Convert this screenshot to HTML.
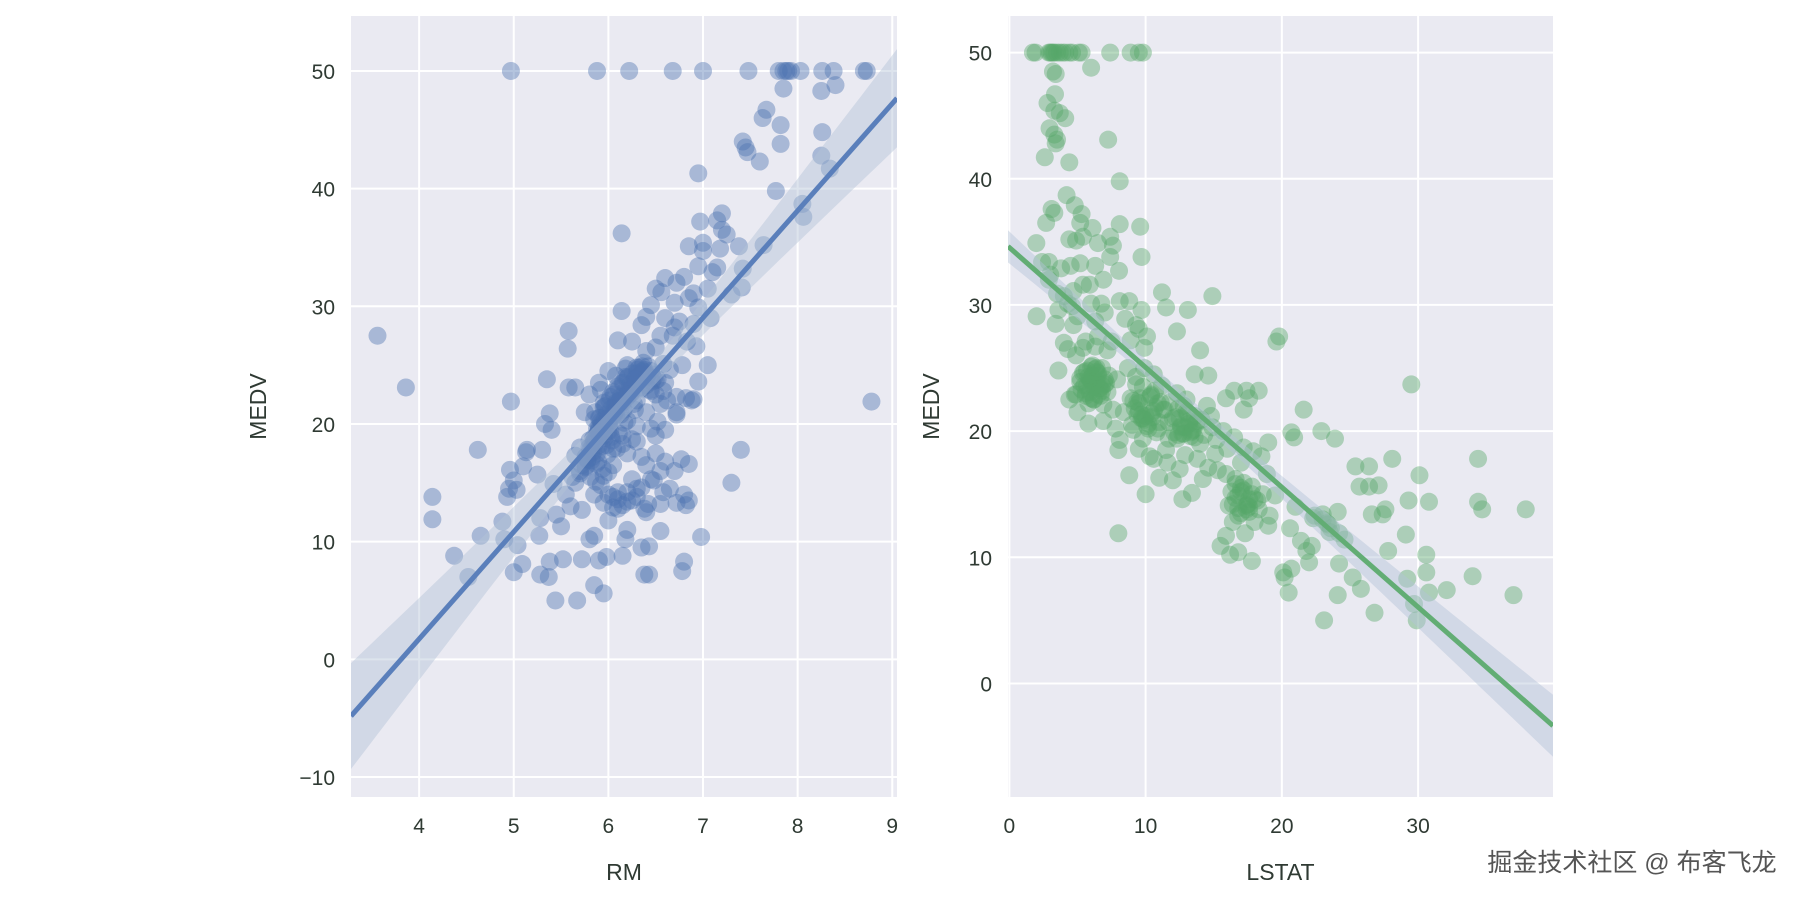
<!DOCTYPE html>
<html><head><meta charset="utf-8"><style>
html,body{margin:0;padding:0;background:#fff;}
svg{display:block;font-family:"Liberation Sans","Noto Sans CJK SC",sans-serif;}
.tick{font-size:21px;fill:#2f3a33;}
.ttl{font-size:23px;fill:#2f3a33;}
</style></head><body>
<svg id="fig" width="1800" height="902" viewBox="0 0 1800 902">
<g id="p1"></g>
<g id="p2"></g>
<text x="1632" y="871" text-anchor="middle" style="font-size:25px;fill:#555;">掘金技术社区 @ 布客飞龙</text>
</svg>
<script>
// ---- data: left panel (RM vs MEDV)
const rmX = [4.97,5.88,6.22,6.68,7.0,7.48,7.8,7.85,7.88,7.9,7.93,8.03,8.26,8.38,8.7,8.73,
7.85,8.25,8.4,7.67,7.63,7.82,7.82,8.26,7.42,7.45,7.47,7.6,8.25,8.34,7.77,6.95,8.05,8.06,7.64,6.14,7.2,7.15,6.97,7.0,7.2,7.25,7.18,7.38,6.85,7.0,7.42,7.41,7.3,7.15,7.1,6.95,6.8,6.72,6.6,6.56,6.9,7.05,6.5,6.45,6.7,6.85,6.95,7.08,6.14,6.6,6.4,6.35,6.7,6.75,6.9,6.68,6.83,6.93,6.1,6.25,6.55,6.5,6.4,7.05,6.95,6.88,6.72,6.78,6.65,5.58,5.57,5.35,5.58,5.65,4.97,5.38,5.33,5.4,3.56,3.86,4.62,5.14,5.1,4.96,5.0,5.03,4.95,4.93,4.14,4.14,4.65,4.88,4.9,5.04,4.37,4.52,5.0,5.09,5.28,5.37,5.38,5.52,5.44,5.67,5.72,5.85,5.95,5.9,5.98,6.15,5.85,5.8,6.38,6.43,6.78,6.8,6.98,6.35,6.43,6.55,6.2,6.18,6.4,6.0,5.72,5.5,5.45,5.28,5.27,5.6,5.55,5.65,5.42,5.62,5.25,5.3,5.13,5.7,5.78,5.85,5.95,6.05,6.1,6.1,6.2,6.3,6.38,6.42,6.25,6.48,6.58,6.65,6.7,6.77,6.85,6.8,6.85,6.82,6.72,6.55,6.6,7.3,7.4,6.5,6.4,6.3,6.45,6.52,6.55,6.72,6.82,6.9,6.62,6.72,8.78,5.95,5.75,5.8,5.9,6.0,6.2,6.3,6.45,6.52,6.58,6.3,6.1,6.2,6.0,5.9,5.8,5.7,5.65,6.05,6.15,6.25,6.4,6.35,6.15,6.05,5.95,5.85,6.08,6.22,6.28,6.13,5.98,6.3,6.45,6.18,5.87,5.95,6.05,6.2,6.35,6.12,5.92,6.4,6.5,6.58,6.6,
5.9,5.95,6.0,6.02,6.06,6.1,6.14,6.18,6.22,6.26,6.3,6.34,6.38,5.88,5.92,5.97,6.03,6.08,6.12,6.16,6.2,6.24,6.28,6.32,5.84,5.9,5.96,6.01,6.07,6.11,6.17,6.21,6.27,5.82,5.86,5.93,5.99,6.04,6.09,6.15,5.78,5.83,5.89,5.94,6.0,5.76,5.81,5.87,5.92,6.42,6.46,6.5,6.36,6.4,6.44,6.48,6.33,6.37,6.41,
5.86,5.91,5.96,6.01,6.06,6.11,6.16,6.21,6.26,6.31,6.36,6.41,6.46,5.88,5.93,5.98,6.03,6.08,6.13,6.18,6.23,6.28,6.33,6.38,5.84,5.89,5.94,5.99,6.04,6.09,6.14,6.19,6.24,6.29,5.80,5.85,5.90,5.95,6.00,6.05,6.10,6.15,6.20,5.76,5.81,5.86,5.91,5.96,6.01,6.06,5.72,5.78,5.84,5.90,5.96,6.02,5.70,5.76,5.82,5.88,6.0,6.1,6.2,6.3,6.05,6.15,6.25,6.35,6.45,6.55,6.5,6.6];
const medvY = [50,50,50,50,50,50,50,50,50,50,50,50,50,50,50,50,
48.5,48.3,48.8,46.7,46,45.4,43.8,44.8,44,43.5,43.1,42.3,42.8,41.7,39.8,41.3,38.7,37.6,35.2,36.2,37.9,37.3,37.2,35.4,36.5,36.1,34.9,35.1,35.1,34.7,33.2,31.6,31,33.3,32.9,33.4,32.5,32,32.4,31.2,31.1,31.5,31.5,30.1,30.3,30.7,29.9,29,29.6,29,29.1,28.4,28.2,28.7,28.5,27.5,27,26.6,27.1,27,27.5,26.5,26.2,25,23.6,22,21,25,24.6,27.9,26.4,23.8,23.1,23.1,21.9,20.9,20,19.5,27.5,23.1,17.8,17.8,16.4,16.1,15.2,14.4,14.5,13.8,13.8,11.9,10.5,11.7,10.2,9.7,8.8,7.0,7.4,8.1,7.2,7.0,8.3,8.5,5.0,5.0,8.5,6.3,5.6,8.4,8.7,8.8,10.5,10.2,7.2,7.2,7.5,8.3,10.4,9.5,9.6,10.9,11,10.2,12.5,11.8,12.7,11.3,12.3,12,10.5,13,14,15,14.9,15.5,15.7,17.8,17.6,16,17,14,13.3,13.8,14.2,12.8,13.4,14.5,12.8,13.2,15.3,15.2,14.2,14.5,16,17,16.6,14,13.5,13.1,13.3,13.2,16.8,15,17.8,17.5,16.5,18.5,19.6,20.2,21.7,22.3,22.2,22.1,22,20.8,21.9,19,21,22.5,23.5,24.5,25,24.8,24.5,23.8,22.8,22,21.5,20.3,20,19.5,18.6,18,17.3,17.9,19,18.7,21,23,23.5,22.7,21.4,20.4,24.1,22.5,21.2,20.8,18.2,19.8,22.8,24.7,16.6,15.6,16.5,17.5,17.2,22,22.9,24,22.5,25.1,23.5,
20.5,21.8,19.4,22.3,20.9,23.2,21.9,24.0,22.7,23.6,24.3,23.1,24.6,19.1,20.2,21.5,18.9,20.7,22.0,21.2,23.9,22.6,23.4,24.0,18.4,19.7,20.4,19.9,21.6,19.2,20.1,22.8,21.7,17.6,18.8,18.1,17.4,18.6,17.9,18.3,16.9,17.2,16.8,16.2,15.9,16.4,15.5,15.1,14.8,24.9,24.2,23.7,24.5,23.3,22.9,23.9,24.8,25.2,24.1,
21.0,20.5,21.5,22.0,22.5,23.0,23.5,24.0,24.3,24.6,24.9,24.2,23.6,19.6,20.0,20.8,21.3,21.8,22.3,22.8,23.3,23.8,24.1,24.4,18.8,19.3,19.9,20.4,20.9,21.4,21.9,22.4,22.9,23.4,18.0,18.6,19.2,19.8,20.3,20.8,21.3,21.8,22.3,17.2,17.8,18.4,19.0,19.6,20.2,20.7,16.5,17.0,17.6,18.2,18.8,19.4,15.8,16.3,16.9,17.5,14.0,13.6,14.2,13.8,12.9,13.1,13.5,14.6,15.3,16.0,19.0,19.5];
const regRM = [9.10, -34.67];          // slope, intercept
const bandRM = [6.28, 248, 506, 23];   // mean, Sxx, n, scale
const rmTicks = [4,5,6,7,8,9];
const medvTicksL = [-10,0,10,20,30,40,50];

// ---- data: right panel (LSTAT vs MEDV)
const lsX = [1.73,1.92,2.9,3.0,3.1,3.2,3.3,3.5,3.7,3.9,4.1,4.4,4.6,5.1,5.3,7.4,8.9,9.5,9.8,
6.0,3.2,3.4,3.35,2.8,3.3,3.7,4.1,2.95,3.3,3.5,3.4,2.6,4.4,7.25,8.1,4.2,4.8,5.3,3.1,3.3,2.7,5.2,6.1,8.1,9.6,5.4,4.4,4.9,1.98,6.5,7.4,7.6,7.4,9.7,2.9,5.2,6.3,4.5,3.8,3.0,8.05,6.9,5.9,5.4,4.7,4.0,4.3,6.0,6.75,8.1,8.8,9.7,11.2,11.5,13.1,14.9,3.6,5.0,7.0,6.3,8.5,9.3,9.5,10.1,12.3,3.4,6.5,7.5,8.9,9.9,5.4,6.3,7.2,19.6,19.8,14.0,13.6,14.6,3.6,15.9,16.5,17.4,18.3,17.6,17.2,21.6,20.7,20.9,22.9,23.9,25.4,26.4,28.1,30.1,34.4,29.5,25.7,26.4,27.1,30.8,34.4,34.7,37.9,29.3,27.4,27.6,26.6,23.3,24.1,23.0,22.3,23.6,24.2,21.4,21.8,20.6,19.1,18.3,22.0,24.2,25.2,25.8,27.8,29.1,30.6,30.6,29.2,30.8,32.1,34.0,37.0,29.7,29.9,26.8,23.1,24.1,20.2,20.5,20.1,20.7,16.2,17.3,17.8,16.8,15.5,15.9,8.0,10.0,8.8,12.7,13.4,12.0,11.6,10.6,8.0,8.1,9.8,11.5,12.9,14.6,14.2,15.9,16.3,17.0,17.5,18.2,17.6,16.8,16.4,16.1,17.8,18.6,18.9,18.5,19.0,17.9,17.2,16.5,15.7,14.9,15.1,14.3,13.3,12.6,12.0,11.4,10.9,10.4,9.8,9.3,8.9,9.4,10.2,10.8,11.7,13.6,14.5,13.0,12.3,11.2,10.6,9.9,8.7,7.9,7.2,6.7,6.2,5.7,5.2,4.8,4.4,5.0,5.8,6.9,7.6,5.5,6.1,6.8,7.3,6.4,5.3,6.0,6.5,7.0,5.8,9.1,9.7,10.4,11.0,12.4,13.8,14.8,15.2,16.0,17.0,12.8,13.2,14.0,11.8,10.7,9.5,8.4,7.8,22.4,23.5,21.0,19.5,19.0,18.0,16.6,15.3,13.8,12.5,11.0,9.5,10.3,24.6,22.2,2.0,2.9,3.5,4.6,4.7,4.0,4.3,4.9,5.6,2.4,
5.6,5.9,6.2,6.5,6.8,7.1,5.7,6.0,6.3,6.6,6.9,9.2,9.6,10.0,10.4,9.0,9.4,9.8,10.2,10.6,12.2,12.6,13.0,13.4,12.4,12.8,13.2,13.6,16.6,17.0,17.4,16.8,17.2,17.6,23.0,23.4,
5.5,5.8,6.1,6.4,6.7,7.0,5.6,5.9,6.2,6.5,6.8,6.1,6.4,9.1,9.5,9.9,10.3,10.7,11.1,9.3,9.7,10.1,10.5,10.9,11.3,11.7,12.1,12.5,12.9,13.3,13.7,14.1,12.3,12.7,13.1,13.5,16.4,16.8,17.2,17.6,18.0,16.6,17.0,17.4,17.8,5.2,4.9,5.4,6.0];
const lsY = [50,50,50,50,50,50,50,50,50,50,50,50,50,50,50,50,50,50,50,
48.8,48.5,48.3,46.7,46,45.4,45.2,44.8,44,43.5,43.1,42.8,41.7,41.3,43.1,39.8,38.7,37.9,37.2,37.6,37.3,36.5,36.5,36.1,36.4,36.2,35.4,35.2,35.1,34.9,34.9,35.4,34.7,33.8,33.8,33.4,33.3,33.1,33.1,32.9,32.4,32.7,32,31.6,31.6,31.1,30.7,30.1,30.1,30.1,30.3,30.3,29.6,31,29.8,29.6,30.7,29.6,29.1,29.4,28.7,28.9,28.4,28.1,27.5,27.9,28.5,27.5,27.1,27.2,26.6,26.6,26.7,26.4,27.1,27.5,26.4,24.5,24.4,24.8,22.6,23.2,23.2,23.2,22.6,21.7,21.7,19.9,19.5,20.0,19.4,17.2,17.2,17.8,16.5,17.8,23.7,15.6,15.6,15.7,14.4,14.4,13.8,13.8,14.5,13.4,13.8,13.4,12.7,13.6,13.4,13.1,12.3,11.9,11.3,10.5,12.3,13.3,13.8,9.6,9.5,8.4,7.5,10.5,11.8,10.2,8.8,8.3,7.2,7.4,8.5,7.0,6.3,5.0,5.6,5.0,7.0,8.4,7.2,8.8,9.1,10.2,11.9,9.7,10.4,10.9,11.7,11.9,15.0,16.5,14.6,15.1,16.1,17.5,17.8,18.5,19.3,19.4,18.5,18.1,17.1,16.2,16.6,15.2,15.2,14.2,14.5,13.6,13.3,12.8,14.1,15.6,15.0,16.6,18.0,19.1,18.4,18.7,19.5,20.0,20.3,18.2,19.7,19.9,20.4,21.0,21.7,22.2,22.8,23.5,24.3,22.6,21.3,20.6,19.9,19.4,21.2,22.0,22.5,23.0,23.6,24.5,25.0,25.0,24.1,23.1,22.8,22.5,23.6,24.2,22.9,22.5,21.5,20.6,20.8,21.7,24.7,25.2,25.0,24.4,23.9,23.3,24.0,24.4,23.7,22.2,20.1,21.0,21.4,20.7,21.8,20.8,21.2,19.3,18.6,17.5,19.8,20.6,19.0,22.3,23.2,22.2,21.5,20.2,13.3,12.0,14.0,14.9,12.5,12.8,16.2,16.9,17.8,17.0,16.3,18.6,18.0,11.4,10.9,29.1,32.0,30.9,29.9,28.4,27.0,26.5,26.0,27.1,33.4,
23.0,24.1,23.5,24.6,23.2,23.8,24.8,22.6,24.9,23.4,22.1,21.8,22.6,21.2,22.9,20.5,22.3,21.0,20.2,21.6,21.1,20.3,21.5,20.0,19.7,22.0,20.8,19.5,14.7,15.5,14.1,13.9,15.9,14.6,13.0,12.6,
23.6,24.3,23.9,24.7,23.4,24.1,22.8,23.1,22.5,22.9,23.6,24.4,25.0,22.4,21.6,20.9,22.7,21.9,22.3,23.7,21.3,20.4,21.1,20.2,21.7,20.7,19.9,21.0,20.3,19.6,20.6,20.9,19.4,19.8,21.4,20.1,14.2,14.9,15.3,14.0,14.6,15.8,13.5,13.8,15.0,23.9,22.9,24.6,25.1];
const regLS = [-0.95, 34.55];
const bandLS = [12.65, 25800, 506, 14];
const lsTicks = [0,10,20,30];
const medvTicksR = [0,10,20,30,40,50];

const NS = 'http://www.w3.org/2000/svg';
function mk(tag, attrs, parent){ const e=document.createElementNS(NS,tag); for(const k in attrs) e.setAttribute(k,attrs[k]); parent.appendChild(e); return e; }

function panel(g, o){
  const sx = v => o.L + (v - o.x0)/(o.x1 - o.x0)*(o.R - o.L);
  const sy = v => o.B - (v - o.y0)/(o.y1 - o.y0)*(o.B - o.T);
  const bg = mk('rect',{x:o.L,y:o.T,width:o.R-o.L,height:o.B-o.T,fill:'#eaeaf2'},g);
  
  
  o.xt.forEach(t=>{
    const l=mk('line',{x1:sx(t),x2:sx(t),y1:o.T,y2:o.B,stroke:'#fff','stroke-width':2},g);
    
    
    const tx=mk('text',{x:sx(t),y:833,'text-anchor':'middle',class:'tick'},g); tx.textContent=t;
    
    
  });
  o.yt.forEach(t=>{
    const l=mk('line',{x1:o.L,x2:o.R,y1:sy(t),y2:sy(t),stroke:'#fff','stroke-width':2},g);
    
    
    const tx=mk('text',{x:o.L-16,y:sy(t)+8,'text-anchor':'end',class:'tick'},g); tx.textContent=(t<0?'\u2212'+(-t):t);
    
    
  });
  const cp = mk('clipPath',{id:'c'+o.id},g);
  mk('rect',{x:o.L,y:o.T,width:o.R-o.L,height:o.B-o.T},cp);
  const pts = mk('g',{'clip-path':'url(#c'+o.id+')'},g);
  
  
  o.xs.forEach((x,i)=>{
    const c=mk('circle',{cx:sx(x),cy:sy(o.ys[i]),r:9,fill:o.col,'fill-opacity':0.42},pts);
    
    
  });
  const [m,S,n,k]=o.band, [a,b]=o.reg;
  const N=60, up=[], dn=[];
  for(let i=0;i<=N;i++){ const x=o.x0+(o.x1-o.x0)*i/N; const yh=a*x+b; const h=k*Math.sqrt(1/n+(x-m)*(x-m)/S);
    up.push(sx(x).toFixed(1)+','+sy(yh+h).toFixed(1)); dn.unshift(sx(x).toFixed(1)+','+sy(yh-h).toFixed(1)); }
  const band=mk('polygon',{points:up.concat(dn).join(' '),fill:'#b4c4d6','fill-opacity':0.45},pts);
  
  
  const ln=mk('line',{x1:sx(o.x0),y1:sy(a*o.x0+b),x2:sx(o.x1),y2:sy(a*o.x1+b),stroke:o.lc,'stroke-width':5},pts);
  
  
  const xl=mk('text',{x:(o.L+o.R)/2,y:880,'text-anchor':'middle',class:'ttl'},g); xl.textContent=o.xl;
  
  
  const yl=mk('text',{x:0,y:0,'text-anchor':'middle',class:'ttl',transform:'translate('+o.ylx+','+((o.T+o.B)/2)+') rotate(-90)'},g); yl.textContent='MEDV';
  
  
}
panel(document.getElementById('p1'),{id:1,L:351,R:897,T:16,B:797,x0:3.28,x1:9.05,y0:-11.7,y1:54.67,
  xt:rmTicks,yt:medvTicksL,xs:rmX,ys:medvY,reg:regRM,band:bandRM,col:'#4c72b0',lc:'#5a7fbb',xl:'RM',ylx:266});
panel(document.getElementById('p2'),{id:2,L:1008,R:1553,T:16,B:797,x0:-0.1,x1:39.9,y0:-9.0,y1:52.9,
  xt:lsTicks,yt:medvTicksR,xs:lsX,ys:lsY,reg:regLS,band:bandLS,col:'#55a868',lc:'#62ad74',xl:'LSTAT',ylx:939});
</script>
</body></html>
